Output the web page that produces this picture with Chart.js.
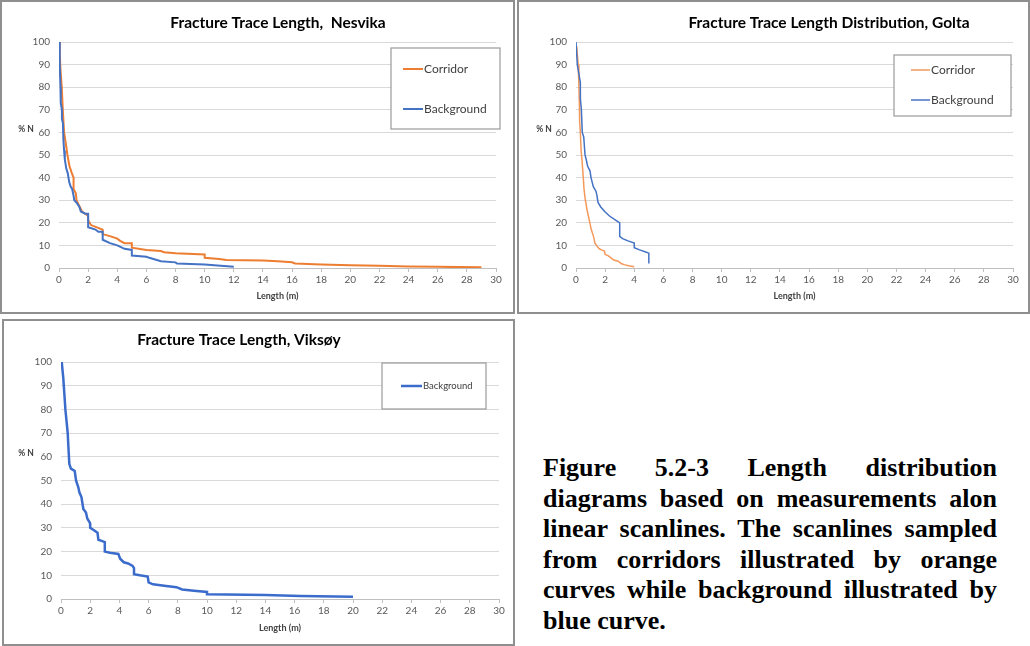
<!DOCTYPE html>
<html>
<head>
<meta charset="utf-8">
<script src="https://cdn.jsdelivr.net/npm/chart.js@4.4.1/dist/chart.umd.min.js"></script>
<style>
body { margin: 0; background: #fff; width: 1030px; height: 646px; position: relative; overflow: hidden; }
.panel { position: absolute; border: 2px solid #8f8f8f; box-sizing: border-box; background: #fff; }
.panel canvas { display: block; }
#caption { position: absolute; left: 543px; top: 453px; width: 454px; font-family: "Liberation Serif", "Times New Roman", serif; font-weight: bold; font-size: 26px; line-height: 30.6px; color: #000; }
#caption div { text-align: justify; text-align-last: justify; white-space: nowrap; }
#caption div.last { text-align-last: left; }
</style>
</head>
<body>

<div class="panel" style="left:0;top:0;width:515px;height:314px"><canvas id="nesvika" width="511" height="310"></canvas></div>
<div class="panel" style="left:517px;top:0;width:513px;height:314px"><canvas id="golta" width="509" height="310"></canvas></div>
<div class="panel" style="left:2px;top:319px;width:513px;height:327px"><canvas id="viksoy" width="509" height="323"></canvas></div>

<div id="caption">
  <div>Figure 5.2-3 Length distribution</div>
  <div>diagrams based on measurements alon</div>
  <div>linear scanlines. The scanlines sampled</div>
  <div>from corridors illustrated by orange</div>
  <div>curves while background illustrated by</div>
  <div class="last">blue curve.</div>
</div>

<script>
// --- data (length in m, cumulative % N) ---
const nesvikaCorridorX = [0, 0.05, 0.1, 0.19, 0.26, 0.35, 0.47, 0.58, 0.72, 0.88, 1.0, 1.0, 1.16, 1.2, 1.35, 1.58, 1.8, 2.0, 2.0, 2.2, 2.6, 3.0, 3.0, 3.55, 4.0, 4.2, 4.5, 5.0, 5.0, 6.0, 7.0, 7.2, 8.0, 10.0, 10.0, 11.0, 11.5, 14.0, 15.0, 16.0, 16.2, 18.0, 20.0, 22.0, 24.0, 26.0, 29.0];
const nesvikaCorridorY = [100, 95, 88, 80, 70, 60, 55, 50, 45, 42, 40, 35, 33, 30, 28, 25, 24, 23, 21, 19, 18, 17, 15, 14, 13, 12, 11, 11, 9, 8, 7.5, 7, 6.5, 6, 4.5, 4, 3.5, 3.3, 3, 2.5, 2, 1.5, 1.2, 1, 0.7, 0.5, 0.3];
const nesvikaBackgroundX = [0, 0.05, 0.1, 0.12, 0.2, 0.2, 0.27, 0.3, 0.35, 0.4, 0.5, 0.6, 0.7, 0.8, 0.9, 1.0, 1.05, 1.2, 1.4, 1.5, 1.8, 2.0, 2.0, 2.5, 2.7, 3.0, 3.0, 3.5, 4.0, 4.5, 5.0, 5.0, 6.0, 6.2, 7.0, 8.0, 8.1, 10.0, 12.0];
const nesvikaBackgroundY = [100, 90, 80, 73, 70, 66, 64, 57, 52, 48, 44, 42, 38, 36, 35, 32, 30, 29, 27, 25, 24, 24, 18, 17, 16, 16, 12.5, 11, 10, 8.5, 8, 5.5, 5, 4.5, 3, 2.5, 2, 1.5, 0.5];

const goltaCorridorX = [0.05, 0.15, 0.2, 0.23, 0.25, 0.3, 0.35, 0.42, 0.5, 0.55, 0.62, 0.75, 0.85, 0.95, 1.05, 1.2, 1.3, 1.4, 1.6, 1.75, 1.95, 2.0, 2.2, 2.4, 2.6, 2.9, 3.1, 3.3, 3.6, 4.0];
const goltaCorridorY = [98, 90, 80, 73, 65, 60, 52, 47, 40, 35, 31, 26, 23, 20, 17, 14, 11, 10, 8.5, 8, 7.5, 6, 5.5, 4.5, 3.5, 3, 2, 1.5, 1, 0.6];
const goltaBackgroundX = [0, 0.09, 0.3, 0.3, 0.37, 0.43, 0.53, 0.62, 0.7, 0.8, 0.96, 1.03, 1.19, 1.37, 1.44, 1.51, 1.7, 1.97, 2.3, 2.77, 3.0, 3.0, 3.2, 3.57, 4.0, 4.0, 4.37, 4.83, 5.0, 5.0];
const goltaBackgroundY = [100, 90, 82, 75, 70, 60, 58, 50, 48, 45, 43, 40, 36, 34, 32, 29, 27, 25, 23, 21, 20, 14, 13, 12, 11, 9, 8, 7, 6.5, 2];

const viksoyBackgroundX = [0.05, 0.16, 0.3, 0.46, 0.5, 0.57, 0.68, 0.94, 1.03, 1.19, 1.26, 1.4, 1.53, 1.71, 1.8, 1.99, 2.0, 2.26, 2.5, 2.56, 2.78, 3.0, 3.0, 3.35, 3.93, 4.05, 4.3, 4.6, 4.9, 5.0, 5.0, 5.4, 5.94, 6.0, 6.3, 7.2, 7.9, 8.3, 9.1, 10.0, 10.0, 14.0, 16.4, 20.0];
const viksoyBackgroundY = [100, 93, 80, 70, 65, 57, 55, 54, 50, 47, 45, 43, 38, 36.5, 34, 32, 30, 29, 28, 25, 24.5, 24, 20, 19.5, 19, 17, 15.5, 15, 14, 13, 10.5, 10, 9.5, 7, 6.2, 5.5, 5, 4, 3.5, 3, 2, 1.7, 1.3, 1];

const xTickStep = 2, xMax = 30;
const yTickStep = 10, yMax = 100;

const orange = '#ED7D31';
const orangeLight = '#F4995A';
const blue = '#4472C4';

function pts(xs, ys) {
  return xs.map((x, i) => ({ x: x, y: ys[i] }));
}

// titles, "% N" label and the boxed legend
const panelDecor = {
  id: 'panelDecor',
  afterDraw(chart, args, o) {
    const ctx = chart.ctx;
    ctx.save();
    ctx.fillStyle = '#000';
    ctx.font = 'bold 15.5px Lato, "Open Sans", sans-serif';
    ctx.textAlign = 'center';
    ctx.textBaseline = 'middle';
    ctx.fillText(o.title, o.titleX, o.titleY);

    ctx.font = 'bold 8.5px Lato, "Open Sans", sans-serif';
    ctx.fillStyle = '#404040';
    ctx.fillText('% N', o.yLabelX, o.yLabelY);

    const lg = o.legend;
    ctx.strokeStyle = '#9a9a9a';
    ctx.lineWidth = 1.2;
    ctx.fillStyle = '#fff';
    ctx.fillRect(lg.x, lg.y, lg.w, lg.h);
    ctx.strokeRect(lg.x, lg.y, lg.w, lg.h);
    ctx.font = lg.font + 'px Lato, "Open Sans", sans-serif';
    ctx.textAlign = 'left';
    chart.data.datasets.forEach((ds, i) => {
      const y = lg.rows[i];
      ctx.strokeStyle = ds.borderColor;
      ctx.lineWidth = ds.borderWidth;
      ctx.beginPath();
      ctx.moveTo(lg.lineX1, y);
      ctx.lineTo(lg.lineX2, y);
      ctx.stroke();
      ctx.fillStyle = '#404040';
      ctx.fillText(ds.label, lg.lineX2 + 1, y);
    });
    ctx.restore();
  }
};

function makeChart(id, datasets, pad, bottomH, decor) {
  return new Chart(document.getElementById(id), {
    type: 'line',
    data: { datasets: datasets },
    plugins: [panelDecor],
    options: {
      responsive: false,
      animation: false,
      layout: { padding: pad },
      elements: { point: { radius: 0 }, line: { tension: 0 } },
      plugins: { legend: { display: false }, tooltip: { enabled: false }, panelDecor: decor },
      scales: {
        x: {
          type: 'linear', min: 0, max: xMax,
          afterFit: s => { s.height = bottomH; },
          ticks: { stepSize: xTickStep, padding: 2, color: '#595959', font: { family: 'Lato', size: 10 } },
          grid: { drawOnChartArea: false, drawTicks: true, tickLength: 4, color: '#bfbfbf' },
          border: { color: '#bfbfbf' },
          title: { display: true, text: 'Length (m)', color: '#404040', font: { family: 'Lato', size: 9, weight: 'bold' }, padding: { top: 0, bottom: 11 } }
        },
        y: {
          min: 0, max: yMax,
          afterFit: s => { s.width = 45; },
          ticks: { stepSize: yTickStep, padding: 9, color: '#595959', font: { family: 'Lato', size: 10 } },
          grid: { color: '#d9d9d9', drawTicks: false },
          border: { display: false }
        }
      }
    }
  });
}

makeChart('nesvika', [
  { label: 'Corridor', data: pts(nesvikaCorridorX, nesvikaCorridorY), borderColor: orange, borderWidth: 2, order: 1 },
  { label: 'Background', data: pts(nesvikaBackgroundX, nesvikaBackgroundY), borderColor: blue, borderWidth: 2, order: 0 }
], { left: 12, top: 40, right: 17, bottom: 0 }, 44, {
  title: 'Fracture Trace Length,  Nesvika', titleX: 276, titleY: 21, yLabelX: 24, yLabelY: 127,
  legend: { x: 389, y: 46, w: 109, h: 81, rows: [67, 107], lineX1: 401, lineX2: 421, font: 12 }
});

makeChart('golta', [
  { label: 'Corridor', data: pts(goltaCorridorX, goltaCorridorY), borderColor: orangeLight, borderWidth: 1.5, order: 1 },
  { label: 'Background', data: pts(goltaBackgroundX, goltaBackgroundY), borderColor: blue, borderWidth: 1.5, order: 0 }
], { left: 12, top: 40, right: 15, bottom: 0 }, 44, {
  title: 'Fracture Trace Length Distribution, Golta', titleX: 310, titleY: 21, yLabelX: 25, yLabelY: 127,
  legend: { x: 375, y: 53, w: 117, h: 61, rows: [68, 98], lineX1: 392, lineX2: 411, font: 12 }
});

makeChart('viksoy', [
  { label: 'Background', data: pts(viksoyBackgroundX, viksoyBackgroundY), borderColor: '#3B6CCB', borderWidth: 2.5 }
], { left: 12, top: 41, right: 14, bottom: 0 }, 45, {
  title: 'Fracture Trace Length, Viksøy', titleX: 235, titleY: 19, yLabelX: 22, yLabelY: 132,
  legend: { x: 378, y: 42, w: 104, h: 46, rows: [65], lineX1: 397, lineX2: 418, font: 9.5 }
});
</script>
</body>
</html>
